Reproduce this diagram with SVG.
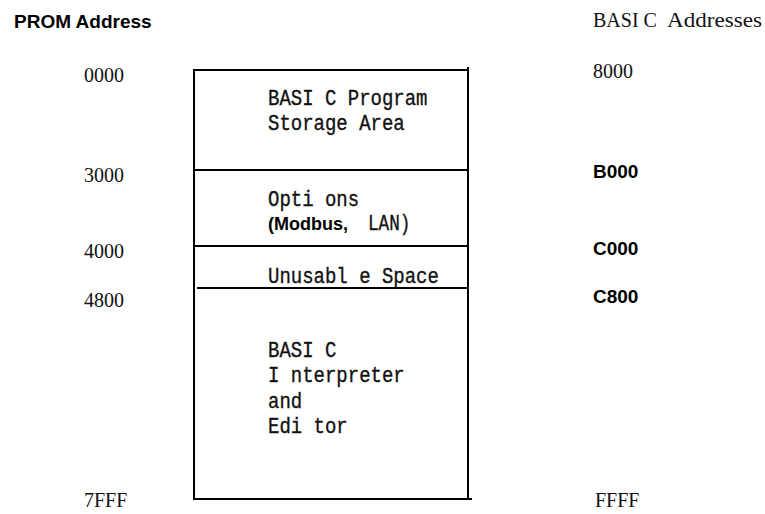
<svg xmlns="http://www.w3.org/2000/svg" width="765" height="514" viewBox="0 0 765 514">
<style>
.ln{stroke:#000;stroke-width:2;fill:none}
.addr{font-family:"Liberation Serif",serif;font-size:20px;fill:#111}
.baddr{font-family:"Liberation Sans",Arial,sans-serif;font-weight:bold;font-size:19px;fill:#000}
.hdr{font-family:"Liberation Sans",Arial,sans-serif;font-weight:bold;font-size:19px;fill:#000}
.box{font-family:"Liberation Mono","Courier New",monospace;font-size:19px;fill:#111;stroke:#111;stroke-width:0.3}
.bsans{font-family:"Liberation Sans",Arial,sans-serif;font-weight:bold;font-size:18px;fill:#000}
</style>
<rect width="765" height="514" fill="#fff"/>
<g id="headers">
<text class="hdr" x="14" y="28">PROM Address</text>
<text class="addr" y="27" font-size="21"><tspan x="593">BASI C</tspan><tspan x="667" textLength="95" lengthAdjust="spacingAndGlyphs">Addresses</tspan></text>
</g>
<g id="prom-addresses">
<text class="addr" x="84" y="82">0000</text>
<text class="addr" x="84" y="182">3000</text>
<text class="addr" x="84" y="258">4000</text>
<text class="addr" x="84" y="307">4800</text>
<text class="addr" x="84" y="507">7FFF</text>
</g>
<g id="basic-addresses">
<text class="addr" x="593" y="78">8000</text>
<text class="baddr" x="593" y="178">B000</text>
<text class="baddr" x="593" y="255">C000</text>
<text class="baddr" x="593" y="303">C800</text>
<text class="addr" x="595" y="507">FFFF</text>
</g>
<g id="connectors">
<line class="ln" x1="193" y1="70" x2="468" y2="70"/>
<line class="ln" x1="194" y1="70" x2="194" y2="499"/>
<line class="ln" x1="468" y1="67" x2="468" y2="499"/>
<line class="ln" x1="194" y1="170" x2="468" y2="170"/>
<line class="ln" x1="194" y1="246" x2="468" y2="246"/>
<line class="ln" x1="197" y1="288" x2="467" y2="288"/>
<line class="ln" x1="193" y1="499" x2="472" y2="499"/>
</g>
<g id="storage-area">
<text class="box" transform="translate(268,105) scale(1,1.2)">BASI C Program</text>
<text class="box" transform="translate(268,130) scale(1,1.2)">Storage  Area</text>
</g>
<g id="options">
<text class="box" transform="translate(268,206) scale(1,1.2)">Opti ons</text>
<text class="bsans" x="268" y="230">(Modbus,</text>
<text class="box" transform="translate(368,230) scale(0.93,1.2)">LAN)</text>
</g>
<g id="unusable">
<text class="box" transform="translate(268,283) scale(1,1.2)">Unusabl e Space</text>
</g>
<g id="interpreter">
<text class="box" transform="translate(268,357) scale(1,1.2)">BASI C</text>
<text class="box" transform="translate(268,382) scale(1,1.2)">I nterpreter</text>
<text class="box" transform="translate(268,408) scale(1,1.2)">and</text>
<text class="box" transform="translate(268,433) scale(1,1.2)">Edi tor</text>
</g>
</svg>
